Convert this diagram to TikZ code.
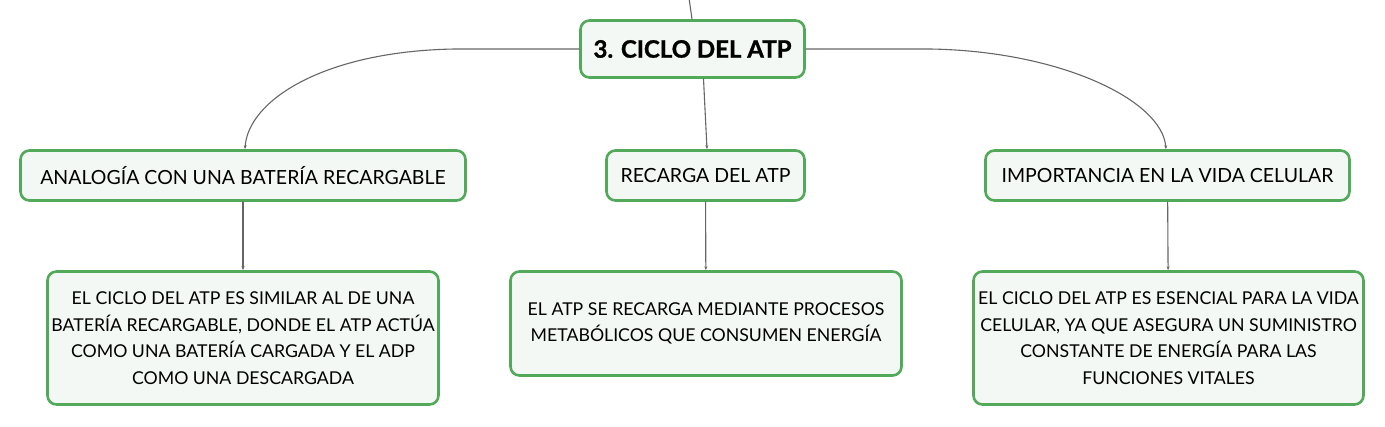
\documentclass[tikz,border=0pt]{standalone}
\usepackage{fontspec}
\setmainfont{Lato}
\newfontfamily\titlefont{Lato}[BoldFeatures={FakeBold=1.2}]
\definecolor{boxgreen}{HTML}{52A95A}
\definecolor{boxfill}{HTML}{F3F8F4}
\definecolor{linkgray}{HTML}{666666}
\tikzset{
	topic/.style={draw=boxgreen, line width=2.6pt, fill=boxfill, rounded corners=9pt, inner sep=0pt, align=center},
	link/.style={draw=linkgray, line width=1.1pt, -{Stealth[length=4pt,width=3pt]}},
}
\usetikzlibrary{arrows.meta}
\begin{document}
\begin{tikzpicture}[x=1pt, y=-1pt, line join=round, line cap=round, font=\fontsize{17.7}{26.6}\selectfont]
		\useasboundingbox (0,0) rectangle (1385,426);
		% main topic
		\node[topic, minimum width=224, minimum height=57, font=\fontsize{24}{28}\selectfont\titlefont\bfseries] (ciclo) at (692.5,49) {3. CICLO DEL ATP};
		\coordinate (padre) at (689,-2);
		% subtopics
		\node[topic, minimum width=445, minimum height=50, font=\fontsize{19.5}{24}\selectfont] (analogia) at (243,175.5) {ANALOGÍA CON UNA BATERÍA RECARGABLE};
		\node[topic, minimum width=198, minimum height=50, font=\fontsize{19.5}{24}\selectfont] (recarga) at (705.5,175.5) {RECARGA DEL ATP};
		\node[topic, minimum width=364, minimum height=50, font=\fontsize{19.5}{24}\selectfont] (importancia) at (1167.5,175.5) {IMPORTANCIA EN LA VIDA CELULAR};
		% details
		\node[topic, minimum width=391, minimum height=133] (analogiaD) at (243,338) {EL CICLO DEL ATP ES SIMILAR AL DE UNA\\BATERÍA RECARGABLE, DONDE EL ATP ACTÚA\\COMO UNA BATERÍA CARGADA Y EL ADP\\COMO UNA DESCARGADA};
		\node[topic, minimum width=391, minimum height=104] (recargaD) at (706,323.5) {EL ATP SE RECARGA MEDIANTE PROCESOS\\METABÓLICOS QUE CONSUMEN ENERGÍA};
		\node[topic, minimum width=390, minimum height=133] (importanciaD) at (1168.5,338) {EL CICLO DEL ATP ES ESENCIAL PARA LA VIDA\\CELULAR, YA QUE ASEGURA UN SUMINISTRO\\CONSTANTE DE ENERGÍA PARA LAS\\FUNCIONES VITALES};
		% connectors
		\draw[linkgray, line width=1.1pt] (padre) -- (ciclo.north -| 692,0);
		\draw[link] (ciclo.west) -- (455,49) .. controls (325,51) and (248,100) .. (analogia.north -| 245,0);
		\draw[link] (ciclo.east) -- (930,49) .. controls (1060,51) and (1162,100) .. (importancia.north -| 1166,0);
		\draw[link] ([xshift=11pt]ciclo.south) -- ([xshift=1.5pt]recarga.north);
		\draw[link] (analogia) -- (analogiaD);
		\draw[link] (recarga) -- (recargaD);
		\draw[link] (importancia) -- (importanciaD);
\end{tikzpicture}
\end{document}
